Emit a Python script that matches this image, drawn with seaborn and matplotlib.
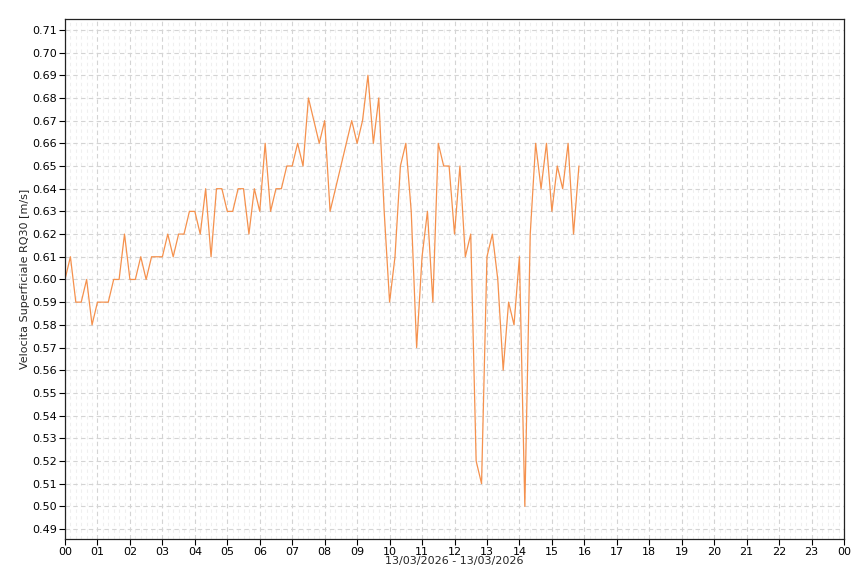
import pandas as pd
import numpy as np
import matplotlib
matplotlib.use('Agg')
import matplotlib.pyplot as plt
import matplotlib.dates as mdates
from matplotlib.ticker import MultipleLocator, FormatStrFormatter
import seaborn as sns

# velocity readings, one every 10 minutes from 00:00 (6 per row = 1 hour)
velocita = [
    0.60, 0.61, 0.59, 0.59, 0.60, 0.58,   # 00
    0.59, 0.59, 0.59, 0.60, 0.60, 0.62,   # 01
    0.60, 0.60, 0.61, 0.60, 0.61, 0.61,   # 02
    0.61, 0.62, 0.61, 0.62, 0.62, 0.63,   # 03
    0.63, 0.62, 0.64, 0.61, 0.64, 0.64,   # 04
    0.63, 0.63, 0.64, 0.64, 0.62, 0.64,   # 05
    0.63, 0.66, 0.63, 0.64, 0.64, 0.65,   # 06
    0.65, 0.66, 0.65, 0.68, 0.67, 0.66,   # 07
    0.67, 0.63, 0.64, 0.65, 0.66, 0.67,   # 08
    0.66, 0.67, 0.69, 0.66, 0.68, 0.63,   # 09
    0.59, 0.61, 0.65, 0.66, 0.63, 0.57,   # 10
    0.61, 0.63, 0.59, 0.66, 0.65, 0.65,   # 11
    0.62, 0.65, 0.61, 0.62, 0.52, 0.51,   # 12
    0.61, 0.62, 0.60, 0.56, 0.59, 0.58,   # 13
    0.61, 0.50, 0.62, 0.66, 0.64, 0.66,   # 14
    0.63, 0.65, 0.64, 0.66, 0.62, 0.65,   # 15
]
tempo = pd.date_range('2026-03-13 00:00', periods=len(velocita), freq='10min')

df = pd.DataFrame({'tempo': tempo, 'velocita': velocita})

sns.set_style('white')
plt.rcParams['font.family'] = ['DejaVu Sans']

fig = plt.figure(figsize=(8.6, 5.73), dpi=100)
ax = fig.add_axes([65/860, 1 - 539/573, (844 - 65)/860, (539 - 19)/573])

sns.lineplot(data=df, x='tempo', y='velocita', ax=ax, color='#f5914d', linewidth=0.9)

ax.set_xlim(pd.Timestamp('2026-03-13 00:00'), pd.Timestamp('2026-03-14 00:00'))
ax.set_ylim(0.4856, 0.7148)

ax.xaxis.set_major_locator(mdates.HourLocator())
ax.xaxis.set_major_formatter(mdates.DateFormatter('%H'))
ax.xaxis.set_minor_locator(mdates.MinuteLocator(byminute=[10, 20, 30, 40, 50]))
ax.yaxis.set_major_locator(MultipleLocator(0.01))
ax.yaxis.set_major_formatter(FormatStrFormatter('%.2f'))

ax.grid(True, which='major', color='#d4d4d4', linestyle=(0, (4, 3)), linewidth=0.8)
ax.grid(True, which='minor', axis='x', color='#efefef', linestyle=(0, (3, 3)), linewidth=0.8)
ax.set_axisbelow(True)

ax.tick_params(axis='both', which='major', direction='out', length=4, width=0.8,
               labelsize=8, colors='black', pad=2, bottom=True, left=True)
ax.tick_params(axis='x', which='minor', length=0)

for s in ax.spines.values():
    s.set_color('#222222')
    s.set_linewidth(0.9)

ax.set_xlabel('13/03/2026 - 13/03/2026', fontsize=8, labelpad=-1)
ax.set_ylabel('Velocita Superficiale RQ30 [m/s]', fontsize=8)
ax.yaxis.set_label_coords(-0.045, 0.5)

fig.savefig('out.png', dpi=100)
